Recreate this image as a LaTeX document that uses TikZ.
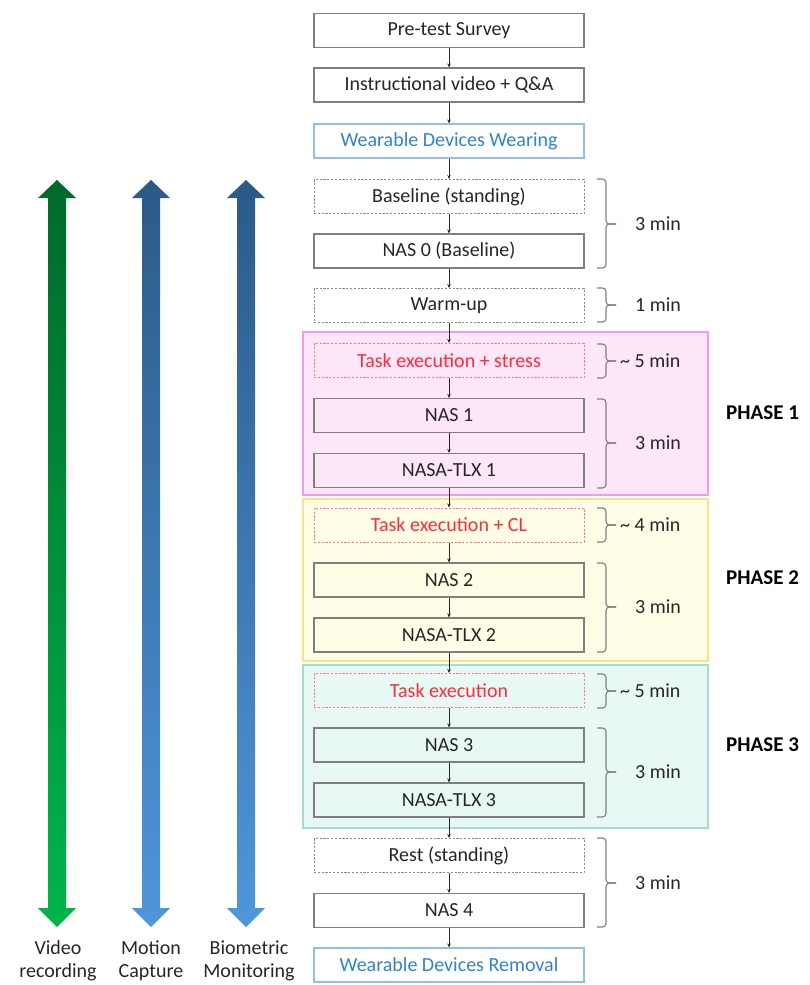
\documentclass[tikz,border=0pt]{standalone}
\usepackage{fontspec}
\setmainfont{Carlito}
\usetikzlibrary{arrows.meta}
\definecolor{txt}{HTML}{262626}
\definecolor{boxline}{HTML}{7F7F7F}
\definecolor{dashline}{HTML}{8C8C8C}
\definecolor{bluetxt}{HTML}{2F83CF}
\definecolor{blueline}{HTML}{8FC0EA}
\definecolor{redtxt}{HTML}{FF2B3A}
\definecolor{redline}{HTML}{FF7A85}
\definecolor{pinkfill}{HTML}{FCE6F7}
\definecolor{pinkline}{HTML}{F39AEA}
\definecolor{yelfill}{HTML}{FFFDE6}
\definecolor{yelline}{HTML}{FFE08A}
\definecolor{tealfill}{HTML}{E8F8F5}
\definecolor{tealline}{HTML}{9FDDD5}
\definecolor{gtop}{HTML}{00692A}
\definecolor{gbot}{HTML}{00B54A}
\definecolor{btop}{HTML}{2B5A87}
\definecolor{bbot}{HTML}{4F96DB}
\definecolor{bracec}{HTML}{808080}
\tikzset{
  every node/.style={font=\fontsize{20}{24}\selectfont, text=txt},
  stepbase/.style={minimum width=270pt, minimum height=34pt, inner sep=0pt, line width=1.1pt},
  solidbox/.style={stepbase, draw=boxline},
  dashbox/.style={stepbase, draw=dashline, dash pattern=on 2.2pt off 1.6pt, line width=1pt},
  redbox/.style={stepbase, draw=redline, dash pattern=on 2.2pt off 1.6pt, line width=1pt, text=redtxt},
  bluebox/.style={stepbase, draw=blueline, text=bluetxt},
  conn/.style={draw=txt, line width=0.6pt, -{Stealth[length=4pt,width=3.5pt]}},
  phaserect/.style={line width=1.1pt},
  bracestyle/.style={draw=bracec, line width=1.1pt, rounded corners=3.5pt},
  timelab/.style={anchor=west, inner sep=0pt},
  phaselab/.style={anchor=west, inner sep=0pt, text=black, font=\fontsize{21}{25}\selectfont\bfseries},
  sidelab/.style={align=center, inner sep=0pt, font=\fontsize{20}{23}\selectfont}
}
\newcommand{\timebrace}[3]{% top, bottom, mid
  \draw[bracestyle] (597,#1) -- (606,#1) -- (606,#3) -- (616,#3);
  \draw[bracestyle] (616,#3) -- (606,#3) -- (606,#2) -- (597,#2);
}
\begin{document}
\begin{tikzpicture}[x=1pt,y=-1pt]
\useasboundingbox (0,0) rectangle (809,985);
% phase backgrounds
\draw[phaserect, fill=pinkfill, draw=pinkline] (303,332) rectangle (708,495);
\draw[phaserect, fill=yelfill, draw=yelline] (303,499) rectangle (708,661);
\draw[phaserect, fill=tealfill, draw=tealline] (303,665) rectangle (708,828);
% steps
\node[solidbox] (pre) at (449,30.5) {Pre-test Survey};
\node[solidbox] (instr) at (449,85) {Instructional video + Q\&A};
\node[bluebox] (wear) at (449,141) {Wearable Devices Wearing};
\node[dashbox] (base) at (449,196.5) {Baseline (standing)};
\node[solidbox] (nas0) at (449,251) {NAS 0 (Baseline)};
\node[dashbox] (warm) at (449,305.5) {Warm-up};
\node[redbox] (t1) at (449,360.5) {Task execution + stress};
\node[solidbox] (nas1) at (449,415.5) {NAS 1};
\node[solidbox] (tlx1) at (449,470.5) {NASA-TLX 1};
\node[redbox] (t2) at (449,525) {Task execution + CL};
\node[solidbox] (nas2) at (449,580) {NAS 2};
\node[solidbox] (tlx2) at (449,635) {NASA-TLX 2};
\node[redbox] (t3) at (449,690.5) {Task execution};
\node[solidbox] (nas3) at (449,745) {NAS 3};
\node[solidbox] (tlx3) at (449,800) {NASA-TLX 3};
\node[dashbox] (rest) at (449,855.5) {Rest (standing)};
\node[solidbox] (nas4) at (449,910.5) {NAS 4};
\node[bluebox] (remove) at (449,965) {Wearable Devices Removal};
% connectors
\foreach \a/\b in {pre/instr, instr/wear, wear/base, base/nas0, nas0/warm, warm/t1, t1/nas1, nas1/tlx1, tlx1/t2, t2/nas2, nas2/tlx2, tlx2/t3, t3/nas3, nas3/tlx3, tlx3/rest, rest/nas4, nas4/remove}
  \draw[conn] (\a.south) -- (\b.north);
% braces and times
\timebrace{179}{268}{224}
\node[timelab] (tm0) at (635,224) {3 min};
\timebrace{288}{322}{305}
\node[timelab] (tm1) at (635,305) {1 min};
\timebrace{344}{378}{361}
\node[timelab] (tm2) at (620,361) {\textasciitilde{} 5 min};
\timebrace{399}{488}{443}
\node[timelab] (tm3) at (635,443) {3 min};
\timebrace{508}{542}{525}
\node[timelab] (tm4) at (620,525) {\textasciitilde{} 4 min};
\timebrace{563}{652}{607}
\node[timelab] (tm5) at (635,607) {3 min};
\timebrace{674}{708}{691}
\node[timelab] (tm6) at (620,691) {\textasciitilde{} 5 min};
\timebrace{728}{817}{772}
\node[timelab] (tm7) at (635,772) {3 min};
\timebrace{838}{927}{883}
\node[timelab] (tm8) at (635,883) {3 min};
% phase labels
\node[phaselab] (p1) at (726,413) {PHASE 1};
\node[phaselab] (p2) at (726,578) {PHASE 2};
\node[phaselab] (p3) at (726,745) {PHASE 3};
% side arrows
\shade[top color=gtop, bottom color=gbot] (57,180) -- (76,198) -- (66,198) -- (66,908) -- (76,908) -- (57,927) -- (38,908) -- (48,908) -- (48,198) -- (38,198) -- cycle;
\shade[top color=btop, bottom color=bbot] (151,180) -- (170,198) -- (160,198) -- (160,908) -- (170,908) -- (151,927) -- (132,908) -- (142,908) -- (142,198) -- (132,198) -- cycle;
\shade[top color=btop, bottom color=bbot] (246,180) -- (265,198) -- (255,198) -- (255,908) -- (265,908) -- (246,927) -- (227,908) -- (237,908) -- (237,198) -- (227,198) -- cycle;
\node[sidelab] (lv) at (58,961) {Video\\recording};
\node[sidelab] (lm) at (151,961) {Motion\\Capture};
\node[sidelab] (lb) at (249,961) {Biometric\\Monitoring};
\end{tikzpicture}
\end{document}
